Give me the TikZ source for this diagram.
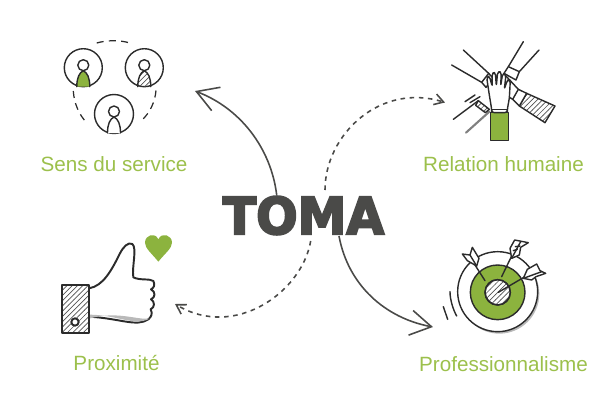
\documentclass[tikz,border=0pt]{standalone}
\usepackage{fontspec}
\setmainfont{Liberation Sans}
\newfontfamily\tomafont[BoldFeatures={FakeBold=4}]{DejaVu Sans}
\usetikzlibrary{arrows.meta,patterns}
\definecolor{tomagreen}{HTML}{8CB33E}
\definecolor{labelgreen}{HTML}{9CC04C}
\definecolor{tomagray}{HTML}{4A4A48}
\definecolor{inkline}{HTML}{2B2B2B}
\tikzset{
  label text/.style={text=labelgreen, font=\fontsize{11.75}{14}\selectfont, inner sep=0pt},
  ink/.style={draw=inkline, line width=0.8pt, line join=round, line cap=round},
  hatched/.style={pattern=north east lines, pattern color=inkline!80},
  big arrow/.style={draw=tomagray, line width=0.9pt, -{Straight Barb[length=4.2mm,width=5mm,line width=0.9pt]}},
  small arrow/.style={draw=tomagray, line width=0.9pt, dash pattern=on 2.6pt off 2.6pt, -{Straight Barb[length=1.8mm,width=2.2mm,line width=0.9pt]}},
  icon dash/.style={draw=inkline, line width=0.7pt, dash pattern=on 4pt off 3pt}
}
\newcommand{\PersonIcon}[4]{% x, y, radius, body fill
  \draw[ink] (#1,#2) circle (#3);
  \draw[ink, #4] (#1-6.5,#2+19) .. controls (#1-6.5,#2+10) and (#1-4,#2+5) .. (#1,#2+3)
    .. controls (#1+4,#2+5) and (#1+6.5,#2+10) .. (#1+6.5,#2+19);
  \draw[ink, fill=white] (#1,#2-2.5) circle (5.5);
}
\begin{document}
\begin{tikzpicture}[x=0.02cm, y=-0.02cm]
\useasboundingbox (0,0) rectangle (600,400);
\node (toma) at (303.5,215.5) {\tomafont\bfseries\fontsize{29}{29}\selectfont\color{tomagray}\scalebox{0.96}[1]{TOMA}};
\node[label text] (service) at (114,164) {Sens du service};
\node[label text] (relation) at (503.5,164) {Relation humaine};
\node[label text] (proximite) at (116.5,363) {Proximité};
\node[label text] (professionnalisme) at (503.5,364) {Professionnalisme};

% connectors
\coordinate (serviceStart) at (276.7,195);
\coordinate (serviceEnd) at (195,91);
\coordinate (relationStart) at (325,190);
\coordinate (relationEnd) at (445,102.5);
\coordinate (proxStart) at (310.7,241);
\coordinate (proxEnd) at (175,304);
\coordinate (proStart) at (339,236);
\coordinate (proEnd) at (433,327);
\draw[big arrow] (serviceStart) .. controls (271,148) and (240,108) .. (serviceEnd);
\draw[small arrow] (relationStart) .. controls (325,135) and (380,82) .. (relationEnd);
\draw[small arrow] (proxStart) .. controls (302,292) and (235,340) .. (proxEnd);
\draw[big arrow] (proStart) .. controls (348,285) and (385,318) .. (proEnd);

% people
\PersonIcon{83.3}{67.7}{19}{fill=tomagreen}
\PersonIcon{144.3}{67.7}{19}{hatched}
\PersonIcon{114}{114}{19.5}{fill=white}
\draw[icon dash] (96.7,43) .. controls (107,40) and (120,40) .. (130,43);
\draw[icon dash] (73.3,91) .. controls (74,103) and (79,115) .. (87,123);
\draw[icon dash] (156,90.5) .. controls (155,102) and (150,113) .. (141,121);

% hands
\begin{scope}[shift={(430,30)}, scale=1/3]
\draw[ink] (100,60) -- (176,130);
\draw[ink] (65,105) -- (155,157);
\draw[ink, fill=white] (176,130) -- (155,157) -- (168,172) -- (190,145) -- cycle;
\draw[ink] (280,35) -- (235,110);
\draw[ink] (327,60) -- (268,125);
\draw[ink, fill=white] (235,110) -- (268,125) -- (258,150) -- (222,130) -- cycle;
\draw[ink, hatched] (290,190) -- (375,228) -- (345,278) -- (268,228) -- cycle;
\draw[ink, fill=white] (225,135) -- (265,178) -- (290,190) -- (268,228) -- (248,208) -- (228,195) -- cycle;
\draw[ink] (265,178) -- (248,208);
\draw[ink] (70,268) -- (145,212);
\draw[ink, line width=1.2pt, draw=gray] (108,308) -- (178,245);
\draw[ink, hatched] (145,212) -- (178,238) -- (166,248) -- (137,226) -- cycle;
\draw[ink] (105,215) -- (135,195);
\draw[ink] (120,218) -- (150,200);
\draw[ink, fill=tomagreen] (182,248) rectangle (235,332);
\draw[ink, fill=white, rounded corners=1.5pt] (185,248) -- (185,238) -- (178,195) -- (170,142) -- (178,138) -- (187,170)
  -- (186,130) -- (196,127) -- (199,168) -- (203,125) -- (214,126) -- (212,168) -- (218,130) -- (228,134)
  -- (223,178) -- (232,150) -- (241,150) -- (238,205) -- (232,238) -- (232,248) -- cycle;
\draw[ink] (185,238) -- (232,238);
\end{scope}

% thumb
\begin{scope}[shift={(40,220)}, scale=1/3]
\draw[ink, line width=1.1pt, fill=white] (147,205) .. controls (190,198) and (215,150) .. (240,100)
  .. controls (250,80) and (265,65) .. (277,72) .. controls (292,85) and (275,140) .. (280,172)
  .. controls (300,182) and (330,175) .. (340,183) .. controls (347,195) and (340,205) .. (333,208)
  .. controls (347,215) and (347,232) .. (333,238) .. controls (345,245) and (345,262) .. (332,268)
  .. controls (338,280) and (335,290) .. (325,298) .. controls (290,322) and (240,295) .. (147,290);
\fill[gray!55] (147,284) .. controls (230,284) and (285,320) .. (328,296) .. controls (290,300) and (230,272) .. (147,296) -- cycle;
\draw[ink, line width=1.1pt, hatched] (67,195) rectangle (146,340);
\draw[ink, line width=1.1pt, fill=white] (105,306) circle (11);
\fill[tomagreen] (355,125) .. controls (335,100) and (315,85) .. (315,68)
  .. controls (315,45) and (345,35) .. (355,58) .. controls (365,35) and (396,45) .. (396,68)
  .. controls (396,85) and (375,100) .. (355,125) -- cycle;
\end{scope}

% target
\begin{scope}[shift={(430,240)}, scale=1/3]
\fill[gray!55] (208,161) circle (120);
\draw[ink, fill=white] (203,155) circle (120);
\draw[ink, fill=tomagreen] (203,157) circle (82);
\draw[ink, fill=white] (203,157) circle (38);
\draw[ink, hatched] (203,157) circle (38);
\draw[ink] (165,122) -- (135,75);
\draw[ink, fill=white] (140,78) -- (112,62) -- (97,42) -- (120,45) -- (127,22) -- (147,55) -- cycle;
\draw[ink] (140,78) -- (120,45);
\draw[ink] (215,110) -- (245,48);
\draw[ink, fill=white] (245,55) -- (240,25) -- (254,0) -- (295,8) -- (272,22) -- (268,45) -- cycle;
\draw[ink] (245,55) -- (272,5);
\draw[ink] (250,32) -- (262,28);
\draw[ink] (256,20) -- (270,18);
\draw[ink] (205,157) -- (285,110);
\draw[ink, fill=white] (280,115) -- (292,88) -- (320,72) -- (330,92) -- (347,100) -- (318,110) -- (305,120) -- cycle;
\draw[ink] (280,115) -- (335,95);
\draw[ink] (40,200) -- (53,238);
\draw[ink] (60,155) .. controls (60,180) and (70,210) .. (80,228);
\end{scope}
\end{tikzpicture}
\end{document}
